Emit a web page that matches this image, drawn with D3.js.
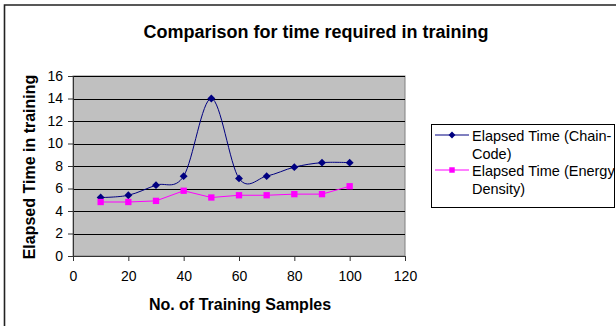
<!DOCTYPE html>
<html>
<head>
<meta charset="utf-8">
<script src="https://cdn.jsdelivr.net/npm/d3@7"></script>
<style>
  body { margin: 0; background: #fff; }
  svg { display: block; font-family: Arial, "Liberation Sans", sans-serif; }
</style>
</head>
<body>
<svg id="chart" width="616" height="326"></svg>
<script>
// Elapsed training time, two methods
const samples = [10, 20, 30, 40, 50, 60, 70, 80, 90, 100];
const chainCode = [5.2, 5.4, 6.3, 7.1, 14, 6.9, 7.1, 7.9, 8.3, 8.3];
const energyDensity = [4.8, 4.8, 4.9, 5.8, 5.2, 5.4, 5.4, 5.5, 5.5, 6.2];
const xTicks = [0, 20, 40, 60, 80, 100, 120];
const yTicks = [0, 2, 4, 6, 8, 10, 12, 14, 16];

const svg = d3.select("#chart");

// outer frame (only top and left show)
svg.append("path")
  .attr("d", "M4.5,330 V5 H620")
  .attr("fill", "none")
  .attr("stroke", "#222")
  .attr("stroke-width", 1.6);

const plot = { left: 73, right: 405, top: 76, bottom: 256 };

const x = d3.scaleLinear().domain([0, 120]).range([plot.left, plot.right]);
const y = d3.scaleLinear().domain([0, 16]).range([plot.bottom, plot.top]);

// plot background
svg.append("rect")
  .attr("x", plot.left).attr("y", plot.top)
  .attr("width", plot.right - plot.left)
  .attr("height", plot.bottom - plot.top)
  .attr("fill", "#c0c0c0")
  .attr("stroke", "#808080")
  .attr("stroke-width", 1);

// gridlines
svg.append("g")
  .selectAll("line")
  .data(yTicks.slice(1))
  .join("line")
    .attr("x1", plot.left).attr("x2", plot.right)
    .attr("y1", d => Math.round(y(d)) + 0.5)
    .attr("y2", d => Math.round(y(d)) + 0.5)
    .attr("stroke", "#000")
    .attr("stroke-width", 1);

// axes
const yAxis = svg.append("g")
  .attr("transform", `translate(${plot.left},0)`)
  .call(d3.axisLeft(y).tickValues(yTicks).tickSize(5).tickPadding(5));

const xAxis = svg.append("g")
  .attr("transform", `translate(0,${plot.bottom})`)
  .call(d3.axisBottom(x).tickValues(xTicks).tickSize(5).tickPadding(10));

[yAxis, xAxis].forEach(a => {
  a.select(".domain").attr("stroke", "#333");
  a.selectAll(".tick line").attr("stroke", "#333");
  a.selectAll(".tick text")
    .attr("font-size", 14)
    .attr("font-family", "Arial, 'Liberation Sans', sans-serif")
    .attr("fill", "#000");
});

// series lines
const smooth = d3.line()
  .x((d, i) => x(samples[i]))
  .y(d => y(d))
  .curve(d3.curveCatmullRom.alpha(0));

const straight = d3.line()
  .x((d, i) => x(samples[i]))
  .y(d => y(d));

svg.append("path")
  .attr("d", straight(energyDensity))
  .attr("fill", "none")
  .attr("stroke", "#ff00ff")
  .attr("stroke-width", 1);

svg.append("path")
  .attr("d", smooth(chainCode))
  .attr("fill", "none")
  .attr("stroke", "#000080")
  .attr("stroke-width", 1);

const diamond = d3.symbol().type(d3.symbolDiamond2).size(40);
const square = d3.symbol().type(d3.symbolSquare).size(40);

svg.append("g")
  .selectAll("path")
  .data(chainCode)
  .join("path")
    .attr("d", diamond)
    .attr("transform", (d, i) => `translate(${x(samples[i])},${y(d)})`)
    .attr("fill", "#000080");

svg.append("g")
  .selectAll("path")
  .data(energyDensity)
  .join("path")
    .attr("d", square)
    .attr("transform", (d, i) => `translate(${x(samples[i])},${y(d)})`)
    .attr("fill", "#ff00ff");

// title and axis labels
svg.append("text")
  .attr("x", 316).attr("y", 38)
  .attr("text-anchor", "middle")
  .attr("font-size", 18)
  .attr("font-weight", "bold")
  .text("Comparison for time required in training");

svg.append("text")
  .attr("x", 240).attr("y", 310)
  .attr("text-anchor", "middle")
  .attr("font-size", 16)
  .attr("font-weight", "bold")
  .text("No. of Training Samples");

svg.append("text")
  .attr("transform", "translate(35,167) rotate(-90)")
  .attr("text-anchor", "middle")
  .attr("font-size", 16)
  .attr("font-weight", "bold")
  .text("Elapsed Time in training");

// legend
const legend = svg.append("g");
legend.append("rect")
  .attr("x", 431.5).attr("y", 124.5)
  .attr("width", 183).attr("height", 83)
  .attr("fill", "#fff")
  .attr("stroke", "#000")
  .attr("stroke-width", 1);

const legendItems = [
  { lines: ["Elapsed Time (Chain-", "Code)"], color: "#000080", sym: diamond, y: 135 },
  { lines: ["Elapsed Time (Energy", "Density)"], color: "#ff00ff", sym: square, y: 170 }
];

legendItems.forEach(item => {
  legend.append("line")
    .attr("x1", 435).attr("x2", 469)
    .attr("y1", item.y).attr("y2", item.y)
    .attr("stroke", item.color);
  legend.append("path")
    .attr("d", item.sym.size(30)())
    .attr("transform", `translate(452,${item.y})`)
    .attr("fill", item.color);
  item.lines.forEach((t, k) => {
    legend.append("text")
      .attr("x", 472).attr("y", item.y + 5.5 + k * 18)
      .attr("font-size", 14.5)
      .text(t);
  });
});
</script>
</body>
</html>
